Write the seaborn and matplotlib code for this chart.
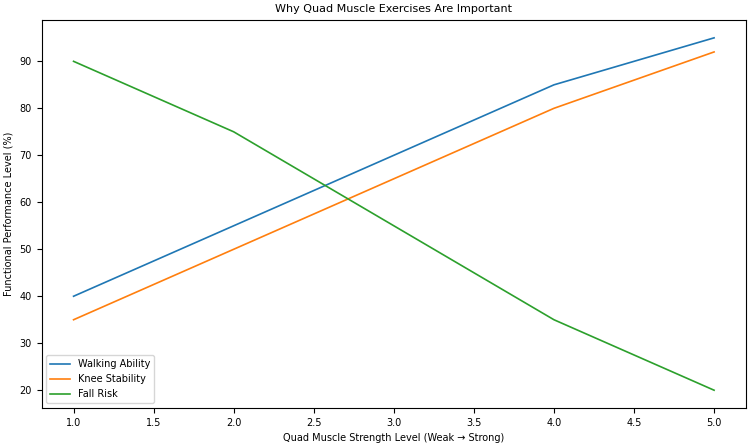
import matplotlib
matplotlib.use("Agg")
import matplotlib.pyplot as plt
import seaborn as sns
import pandas as pd

strength = [1, 2, 3, 4, 5]
walking = [40, 55, 70, 85, 95]
knee = [35, 50, 65, 80, 92]
fall = [90, 75, 55, 35, 20]

df = pd.DataFrame({
    "strength": strength * 3,
    "value": walking + knee + fall,
    "metric": ["Walking Ability"] * 5 + ["Knee Stability"] * 5 + ["Fall Risk"] * 5,
})

plt.rcParams["font.size"] = 7

fig, ax = plt.subplots(figsize=(7.5, 4.47), dpi=100)

sns.lineplot(data=df, x="strength", y="value", hue="metric", ax=ax, linewidth=1.2)

ax.set_title("Why Quad Muscle Exercises Are Important", fontsize=8)
ax.set_xlabel("Quad Muscle Strength Level (Weak \u2192 Strong)")
ax.set_ylabel("Functional Performance Level (%)")
ax.legend(loc="lower left", title=None)

plt.tight_layout(pad=0.4)
plt.savefig("out.png")
